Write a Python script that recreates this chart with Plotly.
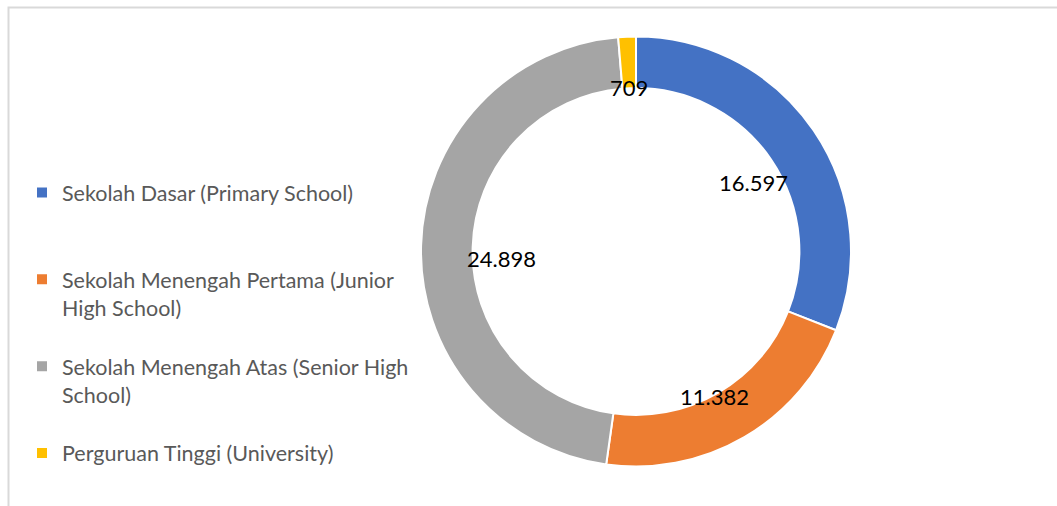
import math
import plotly.graph_objects as go

# ---- data ----
categories = [
    "Sekolah Dasar (Primary School)",
    "Sekolah Menengah Pertama (Junior<br>High School)",
    "Sekolah Menengah Atas (Senior High<br>School)",
    "Perguruan Tinggi (University)",
]
values = [16597, 11382, 24898, 709]

# ---- style ----
colors = ["#4472C4", "#ED7D31", "#A5A5A5", "#FFC000"]
W, H = 1057, 506
CX, CY, R = 636, 251.5, 215
LABEL_R = [142, 155, 135, 175]
LABEL_DROP = 11  # px, labels sit slightly below the mid-angle point
FONT = "Lato"

# pad legend entries (except the last) so every entry occupies the same slot height
max_lines = 3
legend_labels = []
for i, c in enumerate(categories):
    n = c.count("<br>") + 1
    pad = (max_lines - n) if i < len(categories) - 1 else 0
    legend_labels.append(c + "<br>&nbsp;" * pad)

fig = go.Figure()
fig.add_trace(go.Pie(
    labels=legend_labels,
    values=values,
    hole=0.76,
    sort=False,
    direction="clockwise",
    rotation=0,
    textinfo="none",
    hoverinfo="label+value",
    marker=dict(colors=colors, line=dict(color="white", width=2)),
    domain=dict(x=[(CX - R) / W, (CX + R) / W], y=[1 - (CY + R) / H, 1 - (CY - R) / H]),
))

# data labels at slice mid-angles
total = sum(values)
cum = 0
annotations = []
for v, r in zip(values, LABEL_R):
    mid = (cum + v / 2) / total * 2 * math.pi
    cum += v
    px = CX + r * math.sin(mid)
    py = CY - r * math.cos(mid) + LABEL_DROP
    annotations.append(dict(
        x=px / W, y=1 - py / H, xref="paper", yref="paper",
        text=f"{v:,}".replace(",", "."), showarrow=False,
        font=dict(family=FONT, size=22, color="black"),
        xanchor="center", yanchor="middle",
    ))

fig.update_layout(
    width=W, height=H,
    margin=dict(l=0, r=0, t=0, b=0),
    paper_bgcolor="white",
    plot_bgcolor="white",
    showlegend=True,
    legend=dict(
        x=22 / W, xanchor="left",
        y=1 - 172 / H, yanchor="top",
        valign="top",
        font=dict(family=FONT, size=21.5, color="#595959"),
        bgcolor="rgba(0,0,0,0)",
        traceorder="normal",
    ),
    annotations=annotations,
    shapes=[dict(
        type="rect", xref="paper", yref="paper",
        x0=8.5 / W, x1=1.1, y0=-0.1, y1=1 - 7.5 / H,
        line=dict(color="#D9D9D9", width=2), fillcolor="rgba(0,0,0,0)", layer="below",
    )],
)

fig.write_html("out.html")
